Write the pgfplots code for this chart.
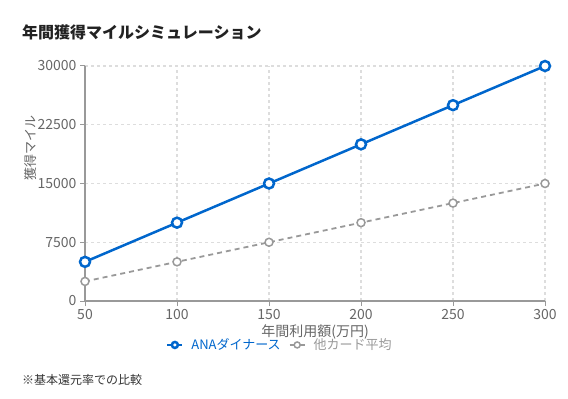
\documentclass[border=0pt]{standalone}
\usepackage{fontspec}
\setmainfont{Noto Sans CJK JP}
\usepackage{pgfplots}
\pgfplotsset{compat=1.18}
\definecolor{anablue}{HTML}{0066CC}
\definecolor{othgray}{HTML}{999999}
\definecolor{ticktxt}{HTML}{666666}
\definecolor{gridc}{HTML}{DDDDDD}
\definecolor{titlec}{HTML}{222222}
\begin{document}
\begin{tikzpicture}[x=1bp,y=1bp]
\useasboundingbox (0,0) rectangle (568,398);
\node[anchor=west,font=\fontsize{16bp}{18bp}\selectfont\bfseries,text=titlec,inner sep=0] at (22,366) {年間獲得マイルシミュレーション};
\node[anchor=west,font=\fontsize{12bp}{14bp}\selectfont,text=black!80,inner sep=0] at (22,18) {※基本還元率での比較};
\begin{axis}[
  at={(85bp,97bp)}, anchor=south west,
  scale only axis, width=460bp, height=235bp,
  xmin=50, xmax=300, ymin=0, ymax=30000,
  xtick={50,100,150,200,250,300},
  ytick={0,7500,15000,22500,30000},
  scaled y ticks=false,
  /pgf/number format/assume math mode=true,
  yticklabel={\pgfmathprintnumber[fixed,1000 sep={}]{\tick}},
  xticklabel={\pgfmathprintnumber[fixed,1000 sep={}]{\tick}},
  ticklabel style={font=\fontsize{14bp}{16bp}\selectfont, text=ticktxt},
  axis x line*=bottom, axis y line*=left,
  axis line style={othgray, line width=1.5bp, -},
  tick style={othgray, line width=1bp},
  tick align=outside, major tick length=5bp,
  grid=major,
  major grid style={gridc, line width=1.2bp, dash pattern=on 3bp off 3bp},
  xlabel={年間利用額(万円)},
  xlabel style={font=\fontsize{14bp}{16bp}\selectfont, text=ticktxt, at={(axis description cs:0.5,-0.13)}, anchor=center},
  ylabel={獲得マイル},
  ylabel style={font=\fontsize{13bp}{15bp}\selectfont, text=ticktxt, at={(axis description cs:-0.119,0.65)}, anchor=center, rotate=0},
  legend style={at={(axis description cs:0.424,-0.187)}, anchor=center, draw=none, fill=none, font=\fontsize{13bp}{15bp}\selectfont, legend columns=2, column sep=6bp, inner sep=0},
  legend image code/.code={\draw[mark repeat=2,mark phase=2,#1,line width=2bp,solid,mark size=3bp] plot coordinates {(0bp,0bp)(7.5bp,0bp)(15bp,0bp)};},
  clip=false,
]
\addplot[anablue, line width=2.5bp, mark=*, mark size=5bp, mark options={solid, fill=white, draw=anablue, line width=2.5bp}]
  coordinates {(50,5000)(100,10000)(150,15000)(200,20000)(250,25000)(300,30000)};
\addlegendentry{\textcolor{anablue}{ANAダイナース}}
\addplot[othgray, line width=1.8bp, dash pattern=on 5bp off 4bp, mark=*, mark size=4bp, mark options={solid, fill=white, draw=othgray, line width=1.5bp}]
  coordinates {(50,2500)(100,5000)(150,7500)(200,10000)(250,12500)(300,15000)};
\addlegendentry{\textcolor{othgray}{他カード平均}}
\end{axis}
\end{tikzpicture}
\end{document}
